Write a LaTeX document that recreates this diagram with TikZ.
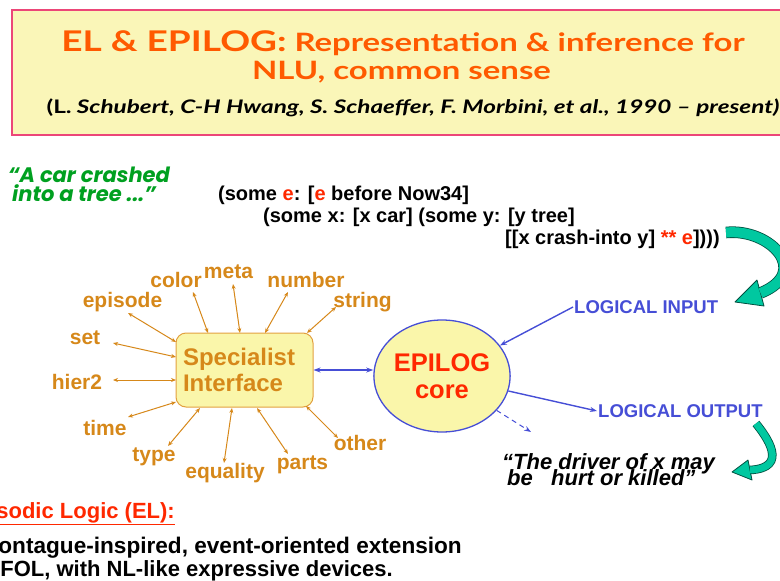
\documentclass[tikz,border=0pt]{standalone}
\usepackage{fontspec}
\setmainfont{Liberation Sans}
\newfontfamily\gillfont{Lato}[FakeStretch=1.3]
\newfontfamily\roundfont{Poppins}
\usetikzlibrary{arrows.meta}
\usetikzlibrary{shapes.geometric}

\definecolor{titleorange}{RGB}{255,90,0}
\definecolor{titlefill}{RGB}{250,246,184}
\definecolor{titleedge}{RGB}{236,70,120}
\definecolor{specorange}{RGB}{214,136,26}
\definecolor{specfill}{RGB}{250,246,170}
\definecolor{specedge}{RGB}{226,160,64}
\definecolor{epiblue}{RGB}{70,78,214}
\definecolor{epired}{RGB}{255,40,0}
\definecolor{quotegreen}{RGB}{0,160,32}
\definecolor{tealfill}{RGB}{0,200,160}
\definecolor{tealedge}{RGB}{0,80,64}

\newcommand{\evar}[1]{\textcolor{epired}{#1}}

\tikzset{
  titleline/.style={anchor=base, inner sep=0pt, text=titleorange, font=\gillfont\bfseries\fontsize{25.3}{25.3}\selectfont},
  authors/.style={anchor=base, inner sep=0pt, font=\gillfont\bfseries\itshape\fontsize{18.7}{18.7}\selectfont},
  sentence/.style={anchor=base west, inner sep=0pt, text=quotegreen, font=\roundfont\bfseries\itshape\fontsize{21}{21}\selectfont},
  lf/.style={anchor=base west, inner sep=0pt, font=\bfseries\fontsize{20}{20}\selectfont},
  specname/.style={text=specorange, inner sep=1pt, font=\bfseries\fontsize{21}{21}\selectfont},
  specbox/.style={draw=specedge, fill=specfill, line width=1pt, rounded corners=10pt, minimum width=137pt, minimum height=74pt, text width=123pt, inner sep=7pt, align=left, text=specorange, font=\bfseries\fontsize{24}{26}\selectfont},
  coreshape/.style={ellipse, draw=epiblue, fill=specfill, line width=1.3pt, minimum width=130pt, minimum height=112pt, inner sep=0pt, align=center, text=epired, font=\bfseries\fontsize{25.5}{27}\selectfont},
  logio/.style={anchor=west, inner sep=1pt, text=epiblue, font=\bfseries\fontsize{18.5}{18.5}\selectfont},
  said/.style={anchor=base west, inner sep=0pt, font=\bfseries\itshape\fontsize{22}{22}\selectfont},
  bottomline/.style={anchor=base east, inner sep=0pt, font=\bfseries\fontsize{22}{22}\selectfont},
  spoke/.style={draw=specorange, line width=1pt, <->, >={Stealth[length=5pt,width=4pt]}},
  link/.style={draw=epiblue, line width=1.4pt, <->, >={Stealth[length=7pt,width=5pt]}},
  flow/.style={draw=epiblue, line width=1.4pt, ->, >={Stealth[length=7pt,width=5pt]}},
  tealhead/.style={draw=tealedge, fill=tealfill, line width=0.8pt, line join=round},
  tealshaft/.style={draw=tealedge, line width=0.8pt, double=tealfill}
}

\begin{document}
\begin{tikzpicture}[x=1pt, y=-1pt]
      \path[use as bounding box] (0,0) rectangle (780,581);
      \clip (0,0) rectangle (780,581);

      \draw[draw=titleedge, fill=titlefill, line width=1.5pt] (12,10) rectangle (800,135);
      \node[titleline] (title1) at (403,51) {{\fontsize{28.5}{28.5}\selectfont EL \& EPILOG:} Representation \& inference for};
      \node[titleline] (title2) at (401.5,79) {NLU, common sense};
      \node[authors] (authors) at (413,113) {{\upshape (L.} Schubert, C-H Hwang, S. Schaeffer, F. Morbini, et al., 1990 – present)};

      \node[sentence] (sentence1) at (8,182) {“A car crashed};
      \node[sentence] (sentence2) at (12,201) {into a tree ...”};

      \node[lf] (lf1) at (218,200) {(some \evar{e}: [\evar{e} before Now34]};
      \node[lf] (lf2) at (263,222) {(some x: [x car] (some y: [y tree]};
      \node[lf] (lf3) at (505,244) {[[x crash-into y] \evar{**} \evar{e}])))};

      \coordinate (tailA) at (726,232.5);
      \coordinate (headA) at (760.5,293);
      \filldraw[tealhead] (735,302) -- (757,280) -- (764,306) -- cycle;
      \draw[tealshaft, double distance=10pt] (tailA) .. controls (770,228) and (812,272) .. (headA);

      \node[specbox] (box) at (244.5,370) {Specialist\\Interface};
      \node[coreshape] (core) at (442,376) {EPILOG\\core};

      \node[specname] (color) at (176,280) {color};
      \node[specname] (meta) at (228.5,272) {meta};
      \node[specname] (number) at (306,280) {number};
      \node[specname] (episode) at (122.5,302) {episode};
      \node[specname] (string) at (362.5,302) {string};
      \node[specname] (set) at (85,338) {set};
      \node[specname] (hier2) at (77,382) {hier2};
      \node[specname] (time) at (105,428) {time};
      \node[specname] (type) at (154,457) {type};
      \node[specname] (equality) at (225,473) {equality};
      \node[specname] (parts) at (302.5,465) {parts};
      \node[specname] (other) at (360,443) {other};

      \draw[spoke] ([shift={(5.5,11)}]episode.center) -- ([shift={(-68.5,-28)}]box.center);
      \draw[spoke] ([shift={(17,12)}]color.center) -- ([shift={(-36.5,-37)}]box.center);
      \draw[spoke] ([shift={(4.5,12)}]meta.center) -- ([shift={(-4.5,-37)}]box.center);
      \draw[spoke] ([shift={(-18,12)}]number.center) -- ([shift={(20.5,-37)}]box.center);
      \draw[spoke] ([shift={(-26.5,5)}]string.center) -- ([shift={(62.5,-37)}]box.center);
      \draw[spoke] ([shift={(28,5)}]set.center) -- ([shift={(-68.5,-13)}]box.center);
      \draw[spoke] ([shift={(36,-2)}]hier2.center) -- ([shift={(-68.5,10)}]box.center);
      \draw[spoke] ([shift={(23,-11)}]time.center) -- ([shift={(-68.5,32)}]box.center);
      \draw[spoke] ([shift={(14,-11)}]type.center) -- ([shift={(-44.5,38)}]box.center);
      \draw[spoke] ([shift={(-1,-10)}]equality.center) -- ([shift={(-12.5,38)}]box.center);
      \draw[spoke] ([shift={(-14.5,-11)}]parts.center) -- ([shift={(12.5,38)}]box.center);
      \draw[spoke] ([shift={(-22,-5)}]other.center) -- ([shift={(61.5,36)}]box.center);

      \draw[link] (box.east) -- (box.east -| core.west);

      \node[logio] (input) at (573,307) {LOGICAL INPUT};
      \node[logio] (output) at (597,411) {LOGICAL OUTPUT};
      \coordinate (guess) at (531,432);

      \draw[flow] (input.west) -- (core);
      \draw[flow] (core) -- (output.west);
      \draw[flow, line width=1pt, dash pattern=on 5pt off 4pt] (core) -- (guess);

      \node[said] (said1) at (502,469) {“The driver of x may};
      \node[said] (said2) at (507,485) {be\ \ \ hurt or killed”};

      \coordinate (tailB) at (756,423.5);
      \coordinate (headB) at (750,470);
      \filldraw[tealhead] (732,472) -- (748,460) -- (752,480) -- cycle;
      \draw[tealshaft, double distance=7pt] (tailB) .. controls (766,436) and (790,468) .. (headB);

      \node[bottomline, text=epired] (ellabel) at (175,518) {\underline{Episodic Logic (EL):}};
      \node[bottomline, font=\bfseries\fontsize{22.6}{22.6}\selectfont] (elline1) at (462,553) {Montague-inspired, event-oriented extension};
      \node[bottomline] (elline2) at (393,576) {FOL, with NL-like expressive devices.};
    \end{tikzpicture}
\end{document}
